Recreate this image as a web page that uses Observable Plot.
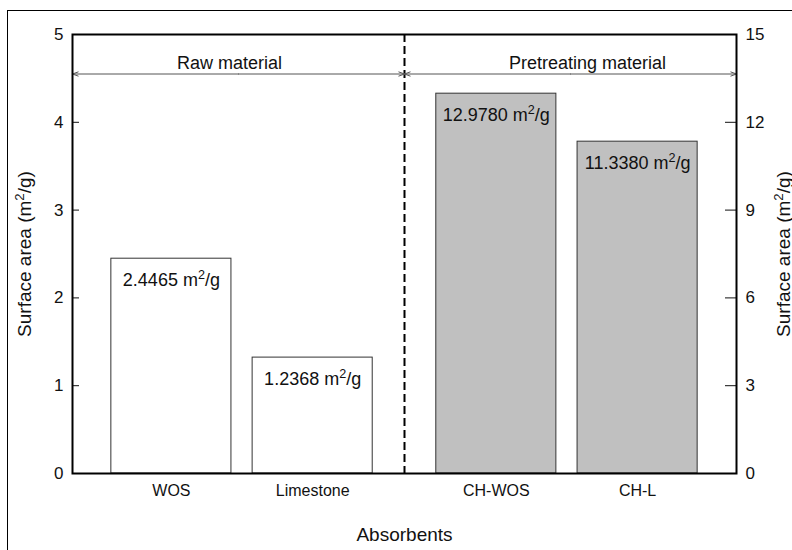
<!DOCTYPE html>
<html><head><meta charset="utf-8">
<script src="https://cdn.jsdelivr.net/npm/d3@7"></script>
<script src="https://cdn.jsdelivr.net/npm/@observablehq/plot@0.6"></script>
<style>
html,body{margin:0;padding:0;background:#fff;overflow:hidden;width:792px;height:550px;}
#wrap{position:relative;width:792px;height:550px;overflow:hidden;}
#border{position:absolute;left:7px;top:10px;width:2000px;height:2000px;border-top:1px solid #000;border-left:1px solid #000;}
#chart{position:absolute;left:0;top:0;}
</style></head><body>
<div id="wrap"><div id="border"></div><div id="chart"></div></div>
<script>
// ---- data ----
const categories = ["WOS", "Limestone", "CH-WOS", "CH-L"];
const groups = ["Raw material", "Raw material", "Pretreating material", "Pretreating material"];
const labelValues = [2.4465, 1.2368, 12.9780, 11.3380];   // values printed in the bars
const barHeights = [2.4465, 1.32, 12.9780, 11.3380];      // bar heights as drawn
const axisSide = ["left", "left", "right", "right"];
const groupNames = ["Raw material", "Pretreating material"];
const leftTicks = [0, 1, 2, 3, 4, 5];
const rightTicks = [0, 3, 6, 9, 12, 15];
const yTitle = "Surface area (m²/g)";
const xTitle = "Absorbents";

// ---- layout ----
const ratio = rightTicks[rightTicks.length - 1] / leftTicks[leftTicks.length - 1];
const groupGap = 0.3;
const halfBar = 0.425;
const rows = categories.map((c, i) => {
  const g = groups[i];
  const gi = groupNames.indexOf(g);
  const pos = i + 1 + gi * groupGap;
  const h = axisSide[i] === "right" ? barHeights[i] / ratio : barHeights[i];
  return {cat: c, group: g, label: labelValues[i], y: h, pos};
});
const xMin = rows[0].pos - 0.7, xMax = rows[rows.length - 1].pos + 0.7;
const divider = (rows[1].pos + rows[2].pos) / 2;
const arrowY = 4.55;
const spans = [
  {name: groupNames[0], a: xMin, b: divider, tx: 1.04},
  {name: groupNames[1], a: divider, b: xMax, tx: 3.39}
];
const arrows = spans.flatMap(s => [
  {x1: (s.a + s.b) / 2, x2: s.a},
  {x1: (s.a + s.b) / 2, x2: s.b}
]);
const posToCat = new Map(rows.map(r => [r.pos, r.cat]));

const chart = Plot.plot({
  width: 792,
  height: 550,
  marginLeft: 72,
  marginRight: 56,
  marginTop: 34,
  marginBottom: 77,
  style: {fontFamily: "'Liberation Sans', Arial, Helvetica, sans-serif", fontSize: "16px", color: "#111", background: "transparent"},
  x: {domain: [xMin, xMax], axis: null},
  y: {domain: [leftTicks[0], leftTicks[leftTicks.length - 1]], axis: null},
  marks: [
    Plot.rect(rows, {
      x1: d => d.pos - halfBar, x2: d => d.pos + halfBar, y1: 0, y2: "y",
      fill: d => d.group === groupNames[0] ? "white" : "#c0c0c0",
      stroke: "#333", strokeWidth: 1
    }),
    Plot.text(rows, {
      x: "pos", y: "y", text: d => d.label.toFixed(4) + " m²/g",
      dy: 22, fontSize: 18, fill: "#111"
    }),
    Plot.ruleX([divider], {stroke: "black", strokeWidth: 2, strokeDasharray: "8,4"}),
    Plot.arrow(arrows, {
      x1: "x1", x2: "x2", y1: arrowY, y2: arrowY,
      stroke: "#555", strokeWidth: 1, headLength: 9, headAngle: 40, insetStart: 0, insetEnd: 0
    }),
    Plot.text(spans, {
      x: "tx", y: arrowY, text: "name", textAnchor: "start", lineAnchor: "bottom",
      dy: -5, fontSize: 18, fill: "#111"
    }),
    Plot.axisY({anchor: "left", ticks: leftTicks, tickFormat: d => String(d), tickSize: -7, tickPadding: 16, fontSize: 17, label: null}),
    Plot.axisY({
      anchor: "right", ticks: rightTicks.map(v => v / ratio),
      tickFormat: d => String(Math.round(d * ratio)),
      tickSize: -12, tickPadding: 21, fontSize: 17, label: null
    }),
    Plot.axisX({
      ticks: rows.map(r => r.pos), tickFormat: d => posToCat.get(d),
      tickSize: 0, tickPadding: 11, fontSize: 16, label: null
    }),
    Plot.text([xTitle], {frameAnchor: "bottom", textAnchor: "middle", dy: 67, fontSize: 19, fill: "#111"}),
    Plot.text([yTitle], {frameAnchor: "left", textAnchor: "middle", rotate: -90, dx: -48, fontSize: 19, fill: "#111"}),
    Plot.text([yTitle], {frameAnchor: "right", textAnchor: "middle", rotate: -90, dx: 47, fontSize: 19, fill: "#111"}),
    Plot.frame({stroke: "black", strokeWidth: 2})
  ]
});

// real superscript for the "2" in m²
const NS = "http://www.w3.org/2000/svg";
chart.querySelectorAll("text").forEach(t => {
  const s = t.textContent;
  if (!s.includes("²") || t.children.length) return;
  const [a, b] = s.split("²");
  t.textContent = "";
  const t1 = document.createElementNS(NS, "tspan"); t1.textContent = a;
  const t2 = document.createElementNS(NS, "tspan"); t2.textContent = "2";
  t2.setAttribute("dy", "-7"); t2.setAttribute("font-size", "70%");
  const t3 = document.createElementNS(NS, "tspan"); t3.textContent = b;
  t3.setAttribute("dy", "7");
  t.append(t1, t2, t3);
});
document.getElementById("chart").appendChild(chart);
</script>
</body></html>
